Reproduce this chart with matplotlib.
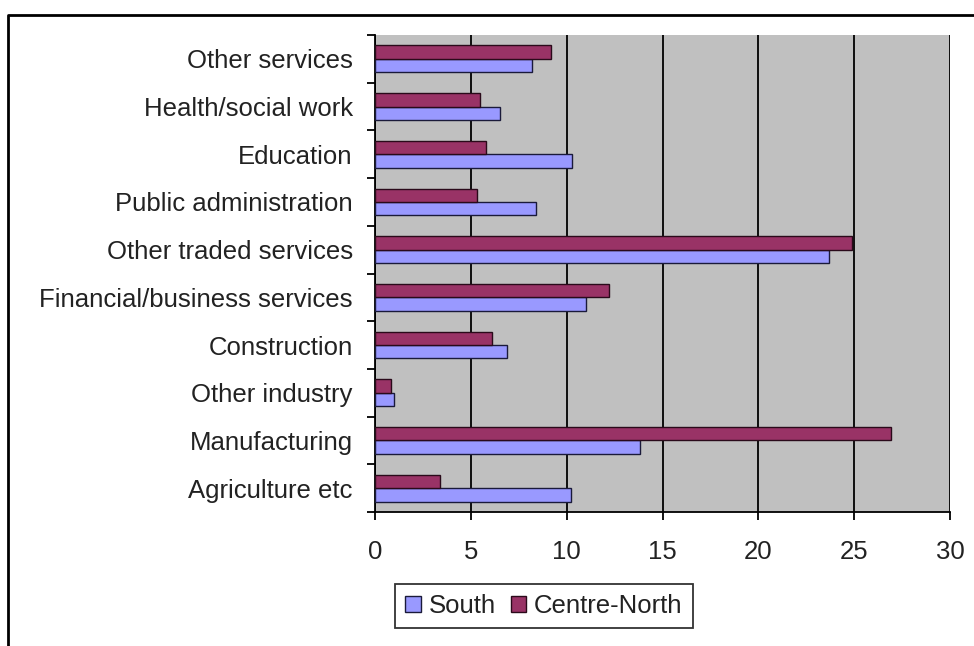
import numpy as np
import matplotlib.pyplot as plt
from matplotlib.lines import Line2D

# ==========================================
# data
# ==========================================

categories = ["Agriculture etc", "Manufacturing", "Other industry", "Construction",
              "Financial/business services", "Other traded services",
              "Public administration", "Education", "Health/social work",
              "Other services"]
south = [10.2, 13.8, 1.0, 6.9, 11.0, 23.7, 8.4, 10.3, 6.5, 8.2]
centre_north = [3.4, 26.9, 0.85, 6.1, 12.2, 24.9, 5.3, 5.8, 5.5, 9.2]
xticks = [0, 5, 10, 15, 20, 25, 30]

# ==========================================

plt.rcParams["font.family"] = ["Liberation Sans", "DejaVu Sans"]
FS = 18.5

fig = plt.figure(figsize=(9.74, 6.46), dpi=100)
fig.patch.set_facecolor("white")
# plot area: x 375..950 px, y 35..512 px
ax = fig.add_axes([375 / 974, 1 - 512 / 646, 575 / 974, 477 / 646])
ax.set_facecolor("#C0C0C0")

y = np.arange(len(categories))
h = 0.28
ax.barh(y - h / 2, south, height=h, color="#9999FF", edgecolor="#1a1a3a",
        linewidth=1.0, label="South", zorder=3)
ax.barh(y + h / 2, centre_north, height=h, color="#993366", edgecolor="#2a0a1a",
        linewidth=1.0, label="Centre-North", zorder=3)

ax.set_xlim(0, 30)
ax.set_ylim(-0.5, len(categories) - 0.5)
ax.set_xticks(xticks)
ax.set_xticklabels([str(t) for t in xticks], fontsize=FS, color="#222222")
ax.set_yticks(y)
ax.set_yticklabels(categories, fontsize=FS, color="#222222")
ax.set_yticks(np.arange(-0.5, len(categories)), minor=True)
ax.tick_params(axis="y", which="major", length=0, pad=16)
ax.tick_params(axis="y", which="minor", length=5.5, width=1.3, direction="out")
ax.tick_params(axis="x", length=6, width=1.3, direction="out", pad=14)

ax.grid(axis="x", color="black", linewidth=1.3, zorder=1)
ax.set_axisbelow(True)
for side in ["top", "right"]:
    ax.spines[side].set_visible(False)
ax.spines["left"].set_linewidth(1.3)
ax.spines["bottom"].set_linewidth(1.3)

leg = ax.legend(loc="center", bbox_to_anchor=(544 / 974, 1 - 606 / 646),
                bbox_transform=fig.transFigure, ncol=2, fontsize=FS, frameon=True,
                fancybox=False, edgecolor="black", handlelength=0.6, handleheight=0.6,
                handletextpad=0.3, columnspacing=0.6, borderpad=0.4)
leg.get_frame().set_linewidth(1.3)
for t in leg.get_texts():
    t.set_color("#222222")

# outer chart border (only top and left edges are inside the picture)
fig.lines.append(Line2D([8 / 974, 8 / 974, 1.0], [0.0, 1 - 15 / 646, 1 - 15 / 646],
                        transform=fig.transFigure, color="black", linewidth=2))

fig.savefig("out.png", dpi=100)
